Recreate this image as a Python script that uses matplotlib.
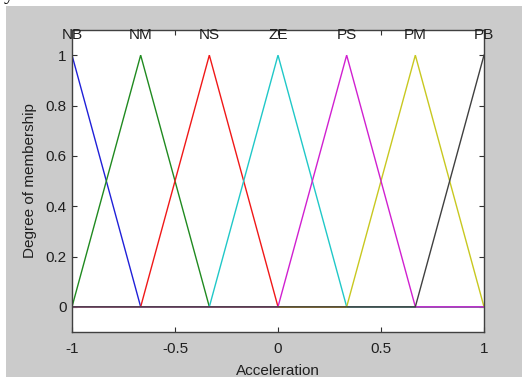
import matplotlib
matplotlib.use("Agg")
import matplotlib.pyplot as plt
from matplotlib.patches import Rectangle

# Membership function names and triangle vertices (x, degree)
mf_names = ["NB", "NM", "NS", "ZE", "PS", "PM", "PB"]
mf_peaks = [-1.0, -2 / 3, -1 / 3, 0.0, 1 / 3, 2 / 3, 1.0]
mf_x = {
    "NB": [-1.0, -2 / 3, 1.0],
    "NM": [-1.0, -2 / 3, -1 / 3, 1.0],
    "NS": [-1.0, -2 / 3, -1 / 3, 0.0, 1.0],
    "ZE": [-1.0, -1 / 3, 0.0, 1 / 3, 1.0],
    "PS": [-1.0, 0.0, 1 / 3, 2 / 3, 1.0],
    "PM": [-1.0, 1 / 3, 2 / 3, 1.0],
    "PB": [-1.0, 2 / 3, 1.0],
}
mf_y = {
    "NB": [1.0, 0.0, 0.0],
    "NM": [0.0, 1.0, 0.0, 0.0],
    "NS": [0.0, 0.0, 1.0, 0.0, 0.0],
    "ZE": [0.0, 0.0, 1.0, 0.0, 0.0],
    "PS": [0.0, 0.0, 1.0, 0.0, 0.0],
    "PM": [0.0, 0.0, 1.0, 0.0],
    "PB": [0.0, 0.0, 1.0],
}
mf_colors = {
    "NB": "#2020d8",
    "NM": "#208a20",
    "NS": "#f01818",
    "ZE": "#20c8c8",
    "PS": "#d020d0",
    "PM": "#c8c820",
    "PB": "#404040",
}
draw_order = ["NB", "NM", "NS", "ZE", "PM", "PS", "PB"]

x_ticks = [-1, -0.5, 0, 0.5, 1]
x_ticklabels = ["-1", "-0.5", "0", "0.5", "1"]
y_ticks = [0, 0.2, 0.4, 0.6, 0.8, 1]
y_ticklabels = ["0", "0.2", "0.4", "0.6", "0.8", "1"]

font = ["Liberation Sans", "DejaVu Sans"]
plt.rcParams["font.family"] = font

W, H = 522, 377
fig = plt.figure(figsize=(W / 100, H / 100), dpi=100, facecolor="white")

# grey figure panel
fig.patches.append(Rectangle((6 / W, 0), 1 - 6 / W, (H - 6) / H,
                             transform=fig.transFigure, facecolor="#cbcbcb",
                             edgecolor="none", zorder=-10))
# clipped caption line above the panel
fig.text(4 / W, (H + 1) / H, "y variables.", family=["Liberation Serif", "DejaVu Serif"],
         fontsize=15, va="baseline", ha="left", color="black", zorder=-5)

ax = fig.add_axes([72 / W, (H - 332) / H, (484 - 72) / W, (332 - 30) / H])
ax.set_zorder(1)
ax.set_facecolor("white")

for name in draw_order:
    ax.plot(mf_x[name], mf_y[name], color=mf_colors[name], lw=1.0, solid_joinstyle="miter")

for name, px in zip(mf_names, mf_peaks):
    ax.text(px, 1.08, name, ha="center", va="center", fontsize=11, color="#202020", clip_on=False)

ax.set_xlim(-1, 1)
ax.set_ylim(-0.1, 1.1)
ax.set_xticks(x_ticks)
ax.set_xticklabels(x_ticklabels)
ax.set_yticks(y_ticks)
ax.set_yticklabels(y_ticklabels)
ax.tick_params(direction="in", length=3.5, width=0.8, color="#303030", labelsize=11,
               labelcolor="#202020", top=True, right=True)
ax.tick_params(axis="x", pad=7)
ax.tick_params(axis="y", pad=4)
for sp in ax.spines.values():
    sp.set_color("#404040")
    sp.set_linewidth(1.0)

ax.set_xlabel("Acceleration", fontsize=11, color="#202020")
ax.xaxis.set_label_coords(0.5, -0.106)
ax.xaxis.label.set_va("top")
ax.set_ylabel("Degree of membership", fontsize=11, color="#202020")
ax.yaxis.set_label_coords(-0.102, 0.5)
ax.yaxis.label.set_va("center")

fig.savefig("out.png", dpi=100, facecolor="white")
